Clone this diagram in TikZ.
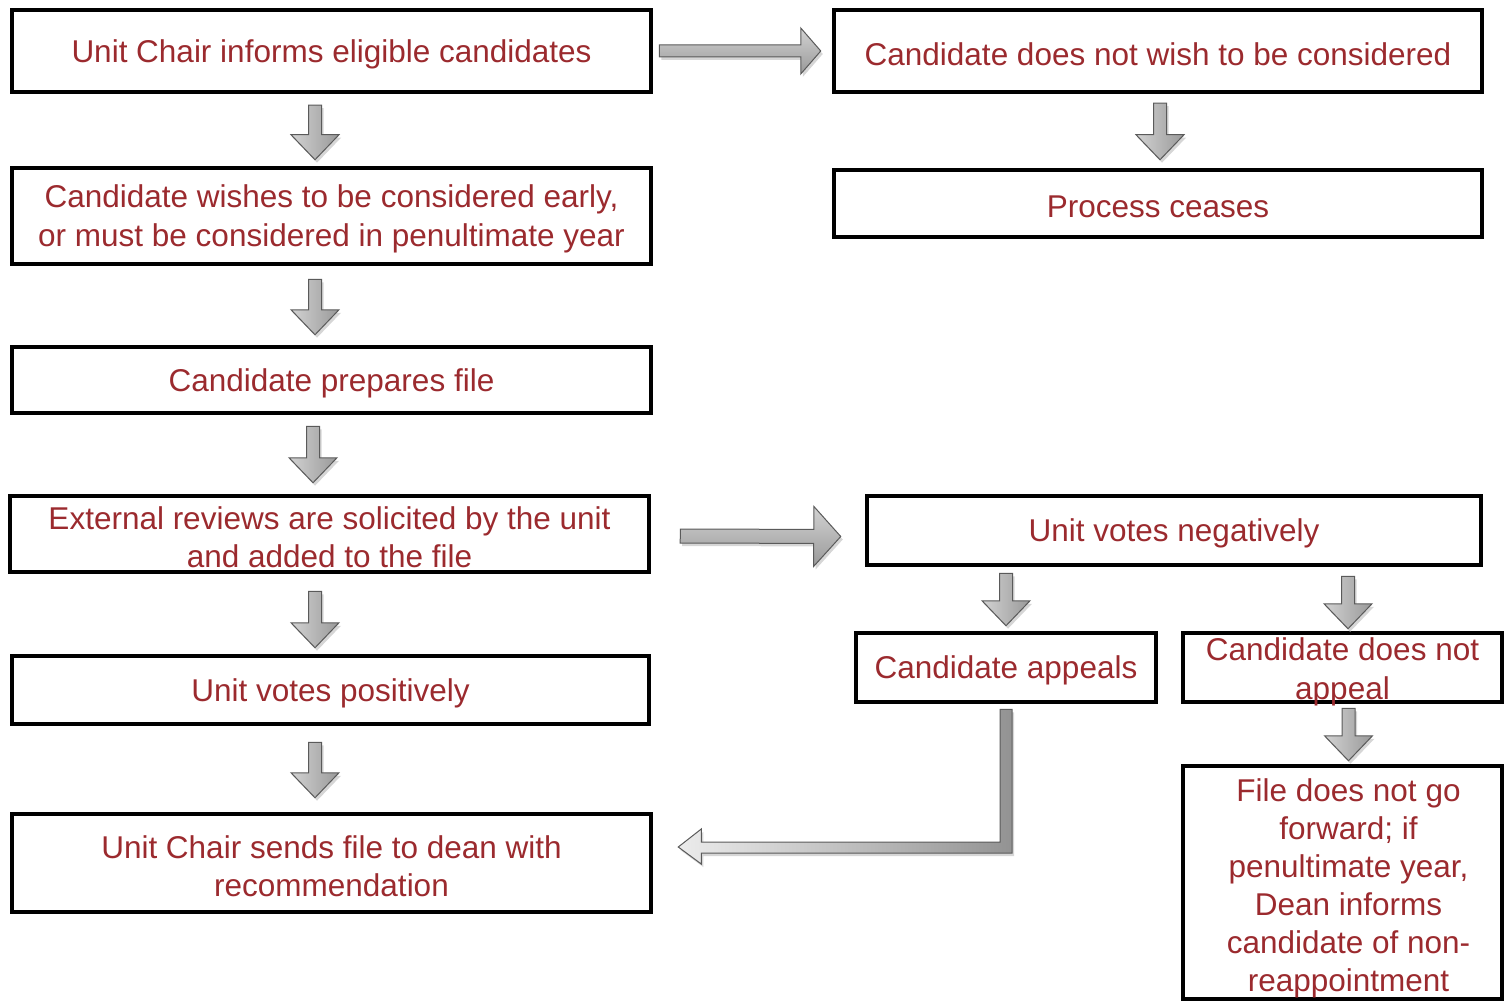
\documentclass[tikz,border=0pt]{standalone}
\usepackage{fontspec}
\setmainfont{Liberation Sans}
\usetikzlibrary{calc}
\definecolor{txtred}{RGB}{155,42,46}
\definecolor{arrline}{RGB}{90,90,90}
\tikzset{
  box/.style={draw=black, line width=4.5pt, inner sep=0pt},
  lbl/.style={text=txtred, font=\fontsize{31.5}{38.5}\selectfont, align=center, inner sep=0pt, yshift=-3pt},
  arrdown/.style={draw=arrline, line width=1pt, left color=gray!35, right color=gray!80},
  arrright/.style={draw=arrline, line width=1pt, top color=gray!35, bottom color=gray!80},
  arrbent/.style={draw=arrline, line width=1pt, left color=gray!15, right color=gray!85},
  arrshadow/.style={fill=black!16, draw=none},
}
\newcommand\bapoly[3]{\path[#1] ($(bas)!#2!90:(bat)$) -- ($(bah)!#2!90:(bat)$) -- ($(bah)!#3!90:(bat)$) -- (bat) -- ($(bah)!#3!-90:(bat)$) -- ($(bah)!#2!-90:(bat)$) -- ($(bas)!#2!-90:(bat)$) -- cycle;}
\newcommand\blockarr[6]{%
  \coordinate (bas) at (#2);
  \coordinate (bat) at (#3);
  \coordinate (bah) at ($(bat)!#6!(bas)$);
  \bapoly{arrshadow, transform canvas={shift={(2pt,-3pt)}}}{#4}{#5}
  \bapoly{#1}{#4}{#5}%
}
\begin{document}
\begin{tikzpicture}[x=1pt, y=-1pt]
\useasboundingbox (0,0) rectangle (1504,1003);
% left column boxes
\node[box, minimum width=639pt, minimum height=82pt] (B1) at (331.5,51) {};
\node[lbl] (B1t) at (B1) {Unit Chair informs eligible candidates};
\node[box, minimum width=639pt, minimum height=96pt] (B2) at (331.5,216) {};
\node[lbl] (B2t) at (B2) {Candidate wishes to be considered early,\\or must be considered in penultimate year};
\node[box, minimum width=639pt, minimum height=66pt] (B3) at (331.5,380) {};
\node[lbl] (B3t) at (B3) {Candidate prepares file};
\node[box, minimum width=639pt, minimum height=76pt] (B4) at (329.5,534) {};
\node[lbl] (B4t) at (B4) {External reviews are solicited by the unit\\and added to the file};
\node[box, minimum width=637pt, minimum height=68pt] (B5) at (330.5,690) {};
\node[lbl] (B5t) at (B5) {Unit votes positively};
\node[box, minimum width=639pt, minimum height=98pt] (B6) at (331.5,863) {};
\node[lbl] (B6t) at (B6) {Unit Chair sends file to dean with\\recommendation};
% right column boxes
\node[box, minimum width=648pt, minimum height=82pt] (R1) at (1158,51) {};
\node[lbl] (R1t) at (R1) {Candidate does not wish to be considered};
\node[box, minimum width=648pt, minimum height=67pt] (R2) at (1158,203.5) {};
\node[lbl] (R2t) at (R2) {Process ceases};
\node[box, minimum width=614pt, minimum height=69pt] (R3) at (1174,530.5) {};
\node[lbl] (R3t) at (R3) {Unit votes negatively};
\node[box, minimum width=300pt, minimum height=69pt] (R4) at (1006,667.5) {};
\node[lbl] (R4t) at (R4) {Candidate appeals};
\node[box, minimum width=319pt, minimum height=69pt] (R5) at (1342.5,667.5) {};
\node[lbl] (R5t) at ($(R5)+(0,1.5)$) {Candidate does not\\appeal};
\node[box, minimum width=319pt, minimum height=233pt] (R6) at (1342.5,882.5) {};
\node[lbl, font=\fontsize{31.5}{38}\selectfont] (R6t) at ($(R6)+(6,2.5)$) {File does not go\\forward; if\\penultimate year,\\Dean informs\\candidate of non-\\reappointment};
% down arrows
\blockarr{arrdown}{$(B1.south)+(-16.5,11)$}{$(B2.north)+(-16.5,-6)$}{6.5pt}{24pt}{25pt}
\blockarr{arrdown}{$(B2.south)+(-16.5,13)$}{$(B3.north)+(-16.5,-10)$}{6.5pt}{24pt}{25pt}
\blockarr{arrdown}{$(B3.south)+(-18.5,11)$}{$(B4.north)+(-16.5,-11)$}{6.5pt}{24pt}{25pt}
\blockarr{arrdown}{$(B4.south)+(-14.5,17)$}{$(B5.north)+(-15.5,-6)$}{6.5pt}{24pt}{25pt}
\blockarr{arrdown}{$(B5.south)+(-15.5,16)$}{$(B6.north)+(-16.5,-14)$}{6.5pt}{24pt}{25pt}
\blockarr{arrdown}{$(R1.south)+(2,9)$}{$(R2.north)+(2,-8)$}{6.5pt}{24pt}{25pt}
\blockarr{arrdown}{$(R4.north|-R3.south)+(0,6)$}{$(R4.north)+(0,-5)$}{6.5pt}{24pt}{25pt}
\blockarr{arrdown}{$(R5.north|-R3.south)+(5.5,9)$}{$(R5.north)+(5.5,-2)$}{6.5pt}{24pt}{25pt}
\blockarr{arrdown}{$(R5.south)+(6,4)$}{$(R6.north)+(6,-3)$}{6.5pt}{24pt}{25pt}
% right arrows
\blockarr{arrright}{$(B1.east)+(6,0)$}{$(R1.west)+(-11,0)$}{6pt}{23pt}{20pt}
\blockarr{arrright}{$(B4.east)+(29,2)$}{$(R3.west)+(-24,6)$}{7pt}{30pt}{27pt}
% bent arrow from appeal back to dean
\coordinate (bt) at ($(R4.south)+(0,5)$);
\coordinate (btip) at ($(B6.east)+(25,-16)$);
\coordinate (bc) at (bt|-btip);
\path[arrshadow, transform canvas={shift={(2pt,-3pt)}}] ($(bt)+(-6,0)$) -- ($(bt)+(6,0)$) -- ($(bc)+(6,6)$) -- ($(btip)+(23,6)$) -- ($(btip)+(23,17)$) -- (btip) -- ($(btip)+(23,-18)$) -- ($(btip)+(23,-5)$) -- ($(bc)+(-6,-5)$) -- cycle;
\path[arrbent] ($(bt)+(-6,0)$) -- ($(bt)+(6,0)$) -- ($(bc)+(6,6)$) -- ($(btip)+(23,6)$) -- ($(btip)+(23,17)$) -- (btip) -- ($(btip)+(23,-18)$) -- ($(btip)+(23,-5)$) -- ($(bc)+(-6,-5)$) -- cycle;
\end{tikzpicture}
\end{document}
